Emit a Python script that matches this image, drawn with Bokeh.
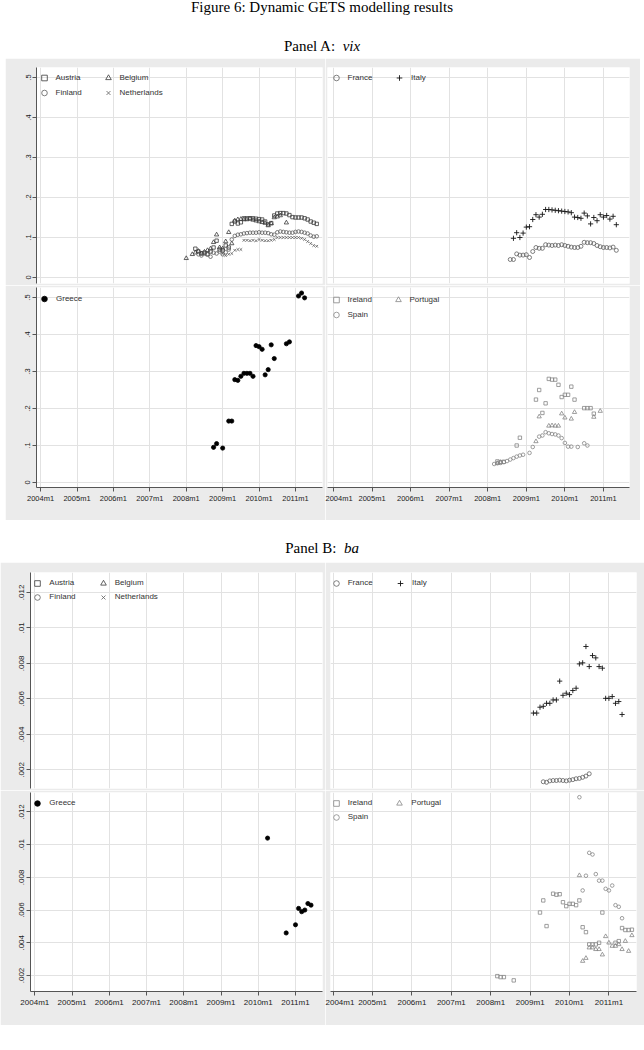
from bokeh.plotting import figure
from bokeh.models import (Range1d, FixedTicker, Legend, LegendItem, Div, Spacer,
                          LinearAxis, ColumnDataSource)
from bokeh.layouts import column, row
from bokeh.embed import file_html
from bokeh.resources import INLINE

# ---------------- data ----------------
N = None
x_tick_values = [0, 12, 24, 36, 48, 60, 72, 84]
x_tick_labels = ["2004m1", "2005m1", "2006m1", "2007m1", "2008m1", "2009m1", "2010m1", "2011m1"]
vix_y_ticks = [0, 0.1, 0.2, 0.3, 0.4, 0.5]
vix_y_labels = ["0", ".1", ".2", ".3", ".4", ".5"]
ba_y_ticks = [0.002, 0.004, 0.006, 0.008, 0.01, 0.012]
ba_y_labels = [".002", ".004", ".006", ".008", ".01", ".012"]

# Panel A: vix  (each series: first month, then monthly values; None = no estimate)
vix_austria_start = "2008m4"
vix_austria = [0.072, 0.065, 0.060, 0.062, 0.058, 0.065, 0.075, 0.092, 0.070, 0.068, 0.080, 0.075,
               0.134, 0.140, 0.135, 0.138, 0.148, 0.148, 0.148, 0.148, 0.147, 0.146, 0.145, 0.140,
               0.133, 0.136, 0.155, 0.160, 0.161, 0.161, 0.160, 0.156, 0.151, 0.150, 0.150, 0.150,
               0.148, 0.145, 0.140, 0.137, 0.134]
vix_belgium_start = "2008m1"
vix_belgium = [0.048, N, 0.058, 0.062, 0.066, 0.060, 0.064, 0.068, 0.072, 0.088, 0.107, 0.075,
               0.072, 0.090, 0.113, 0.085, 0.142, 0.145, 0.146, 0.145, 0.145, 0.147, 0.144, 0.142,
               0.140, 0.138, 0.136, 0.130, 0.135, 0.150, 0.152, 0.155, N, 0.137]
vix_finland_start = "2008m5"
vix_finland = [0.058, 0.055, 0.060, 0.058, 0.052, 0.062, 0.060, 0.065, 0.058, 0.063, 0.070, 0.095,
               0.104, 0.107, 0.108, 0.110, 0.111, 0.112, 0.112, 0.112, 0.113, 0.112, 0.112, 0.111,
               0.108, 0.107, 0.113, 0.115, 0.114, 0.113, 0.112, 0.112, 0.114, 0.115, 0.114, 0.112,
               0.110, 0.105, 0.102, 0.103]
vix_netherlands_start = "2009m1"
vix_netherlands = [0.060, 0.055, 0.058, 0.060, 0.068, 0.070, 0.070, 0.093, 0.093, 0.092, 0.093, 0.092,
                   0.095, 0.093, 0.092, 0.092, 0.093, 0.095, 0.100, 0.100, 0.100, 0.100, 0.100, 0.100,
                   0.100, 0.100, 0.098, 0.095, 0.090, 0.085, 0.080, 0.078]
vix_france_start = "2008m8"
vix_france = [0.045, 0.045, 0.059, 0.056, 0.056, 0.057, 0.050, 0.065, 0.075, 0.073, 0.073, 0.082,
              0.081, 0.080, 0.081, 0.080, 0.082, 0.080, 0.078, 0.076, 0.075, 0.075, 0.078, 0.088,
              0.087, 0.087, 0.085, 0.080, 0.077, 0.075, 0.075, 0.074, 0.076, 0.068]
vix_italy_start = "2008m9"
vix_italy = [0.098, 0.112, 0.100, 0.111, 0.126, 0.127, 0.145, 0.157, 0.151, 0.158, 0.170, 0.170,
             0.169, 0.168, 0.167, 0.166, 0.165, 0.164, 0.162, 0.151, 0.150, 0.148, 0.161, 0.154,
             0.134, 0.150, 0.142, 0.157, 0.151, 0.155, 0.146, 0.153, 0.132]
vix_greece_start = "2008m10"
vix_greece = [0.095, 0.105, N, 0.093, N, 0.166, 0.166, 0.278, 0.276, 0.287, 0.295, 0.295,
              0.295, 0.287, 0.370, 0.367, 0.360, 0.291, 0.305, 0.372, 0.335, N, N, N,
              0.375, 0.380, N, N, 0.504, 0.512, 0.499]
vix_ireland_start = "2008m4"
vix_ireland = [0.057, 0.055, 0.056, N, N, N, 0.100, 0.121, N, N, N, N,
               0.224, 0.250, 0.188, 0.214, 0.280, 0.278, 0.278, 0.264, 0.231, 0.237, 0.237, 0.259,
               0.224, N, N, 0.201, 0.201, 0.201, 0.186]
vix_portugal_start = "2008m4"
vix_portugal = [0.052, 0.055, N, N, N, N, N, N, N, N, N, N,
                0.111, 0.178, N, N, 0.153, 0.154, 0.153, 0.153, 0.186, 0.175, N, 0.172,
                0.190, N, N, N, N, N, 0.177, N, 0.193]
vix_spain_start = "2008m3"
vix_spain = [0.050, 0.052, 0.053, 0.055, 0.058, 0.062, 0.066, 0.070, 0.073, 0.075, N, 0.080,
             0.096, N, 0.124, 0.127, 0.136, 0.133, 0.131, 0.130, 0.127, 0.120, 0.107, 0.097,
             0.097, N, 0.096, N, 0.106, 0.100]

# Panel B: ba  (Austria, Belgium, Finland, Netherlands: no estimates retained)
ba_austria_start = "2004m1"
ba_austria = [N]
ba_belgium_start = "2004m1"
ba_belgium = [N]
ba_finland_start = "2004m1"
ba_finland = [N]
ba_netherlands_start = "2004m1"
ba_netherlands = [N]
ba_france_start = "2009m5"
ba_france = [0.00133, 0.00130, 0.00138, 0.00140, 0.00140, 0.00142, 0.00140, 0.00138, 0.00142,
             0.00145, 0.00150, 0.00152, 0.00158, 0.00165, 0.00178]
ba_italy_start = "2009m2"
ba_italy = [0.0052, 0.0052, 0.00553, 0.00558, 0.00575, 0.00575, 0.00594, 0.00594, 0.0070, 0.0062,
            0.00632, 0.00624, 0.00647, 0.0066, 0.00797, 0.00803, 0.00895, 0.00782, 0.00844, 0.00831,
            0.00782, 0.00773, 0.00603, 0.00603, 0.00613, 0.00575, 0.00585, 0.00512]
ba_greece_start = "2010m4"
ba_greece = [0.0104, N, N, N, N, N, 0.0046, N, N, 0.0051, 0.0061, 0.0059, 0.0060, 0.0064, 0.0063]
ba_ireland_start = "2008m3"
ba_ireland = [0.00196, 0.0019, 0.0019, N, N, 0.0017, N, N, N, N, N, N, N,
              0.00585, 0.00659, 0.00502, N, 0.0070, 0.00694, 0.00697, 0.00648, 0.00624, 0.00638,
              0.00638, 0.0063, 0.00659, 0.00495, 0.00465, 0.0039, 0.0039, 0.0039, 0.0040, 0.00585,
              N, N, N, 0.0040, 0.0041, 0.0049, 0.00478, 0.00478, 0.0048]
ba_portugal_start = "2010m4"
ba_portugal = [0.00812, 0.00288, 0.00306, 0.0037, 0.0037, 0.0036, 0.0036, 0.00327, 0.00439, 0.0040,
               0.0038, 0.0038, 0.0039, 0.0036, 0.0041, 0.00349, 0.00445]
ba_spain_start = "2010m4"
ba_spain = [0.0129, 0.0072, 0.0081, 0.0095, 0.0094, 0.0082, 0.0078, 0.0078, 0.0073, 0.0072,
            0.0075, 0.0063, 0.0062, 0.0055]

# ---------------- helpers ----------------
FONT = "Liberation Sans"
OUTER = "#ebebeb"
GRID = "#e2e2e2"
FRAME_H = {}


def month_index(period):
    y, m = period.split("m")
    return (int(y) - 2004) * 12 + int(m) - 1


def source(start, values):
    k0 = month_index(start)
    xs = [k0 + i for i, v in enumerate(values) if v is not None]
    ys = [v for v in values if v is not None]
    if not xs:  # series without any estimate: keep one empty (NaN) slot so the legend key is drawn
        xs, ys = [float("nan")], [float("nan")]
    return ColumnDataSource(dict(x=xs, y=ys))


def style_axis(ax, fs):
    ax.major_tick_out = 4
    ax.major_tick_in = 0
    ax.minor_tick_out = 0
    ax.minor_tick_in = 0
    ax.major_label_standoff = 2
    ax.axis_line_color = "#555555"
    ax.major_tick_line_color = "#555555"
    ax.major_label_text_font = FONT
    ax.major_label_text_font_size = fs
    ax.major_label_text_color = "#222222"


def panel_fig(w, h, borders, xr, yr, yticks, ylabels, show_x, show_y, fs):
    bl, br, bt, bb = borders
    p = figure(width=w, height=h, x_range=Range1d(*xr), y_range=Range1d(*yr),
               x_axis_location=None, y_axis_location=None,
               output_backend="svg", toolbar_location=None,
               min_border_left=bl, min_border_right=br,
               min_border_top=bt, min_border_bottom=bb,
               background_fill_color="white", border_fill_color=OUTER,
               outline_line_color=None, margin=0)
    xt = FixedTicker(ticks=x_tick_values, minor_ticks=[])
    yt = FixedTicker(ticks=yticks, minor_ticks=[])
    p.xgrid.ticker = xt
    p.ygrid.ticker = yt
    p.grid.grid_line_color = GRID
    p.grid.grid_line_width = 1
    if show_x:
        ax = LinearAxis(ticker=xt, major_label_overrides=dict(zip(x_tick_values, x_tick_labels)))
        style_axis(ax, fs)
        p.add_layout(ax, "below")
    if show_y:
        ay = LinearAxis(ticker=yt, major_label_overrides=dict(zip(yticks, ylabels)),
                        major_label_orientation="vertical")
        style_axis(ay, fs)
        p.add_layout(ay, "left")
    FRAME_H[p.id] = h - bt - bb
    return p


def pts(p, start, values, marker, color, size, filled=False, width=0.8):
    src = source(start, values)
    return p.scatter("x", "y", source=src, marker=marker, size=size,
                     fill_color=color if filled else None, line_color=color,
                     line_width=width)


def legends(p, cols, offsets, top, pitch):
    for items, xo in zip(cols, offsets):
        leg_h = len(items) * pitch
        loc = (xo - 7, FRAME_H[p.id] - (top - pitch / 2.0) - leg_h)
        leg = Legend(items=[LegendItem(label=lab, renderers=[r]) for lab, r in items],
                     location=loc, orientation="vertical",
                     glyph_width=14, glyph_height=pitch, label_height=8, label_width=0,
                     spacing=0, padding=0, margin=0, label_standoff=5,
                     label_text_font=FONT, label_text_font_size="8px",
                     label_text_color="#333333",
                     background_fill_alpha=0, border_line_alpha=0)
        p.add_layout(leg)


DARK = "#3a3a3a"
MID = "#5e5e5e"
LIGHT = "#858585"
SQ, CI, TR, XX, PL, DOT = 3.4, 3.6, 4.3, 3.8, 5.2, 4.2

# ---------------- Panel A ----------------
A_xr_left = (-1.35, 92.9)
A_xr_right = (-1.85, 92.1)
A_yr_top = (-0.015, 0.525)
A_yr_bot = (-0.0135, 0.527)

a_tl = panel_fig(320, 227, (31, 3, 9, 2), A_xr_left, A_yr_top, vix_y_ticks, vix_y_labels, False, True, "7.5px")
r_aus = pts(a_tl, vix_austria_start, vix_austria, "square", DARK, SQ)
r_bel = pts(a_tl, vix_belgium_start, vix_belgium, "triangle", DARK, TR)
r_fin = pts(a_tl, vix_finland_start, vix_finland, "circle", MID, CI)
r_net = pts(a_tl, vix_netherlands_start, vix_netherlands, "x", MID, XX)
legends(a_tl, [[("Austria", r_aus), ("Finland", r_fin)], [("Belgium", r_bel), ("Netherlands", r_net)]],
        [7.5, 71.5], 10.5, 15)

a_tr = panel_fig(315, 227, (2, 11, 9, 2), A_xr_right, A_yr_top, vix_y_ticks, vix_y_labels, False, False, "7.5px")
r_fra = pts(a_tr, vix_france_start, vix_france, "circle", MID, CI + 0.4)
r_ita = pts(a_tr, vix_italy_start, vix_italy, "cross", "#151515", PL, width=0.9)
legends(a_tr, [[("France", r_fra)], [("Italy", r_ita)]], [8.5, 72], 10.5, 15)

a_bl = panel_fig(320, 235, (31, 3, 2, 33), A_xr_left, A_yr_bot, vix_y_ticks, vix_y_labels, True, True, "7.5px")
r_gre = pts(a_bl, vix_greece_start, vix_greece, "circle", "#000000", DOT, filled=True)
legends(a_bl, [[("Greece", r_gre)]], [8], 11.3, 15)

a_br = panel_fig(315, 235, (2, 11, 2, 33), A_xr_right, A_yr_bot, vix_y_ticks, vix_y_labels, True, False, "7.5px")
r_ire = pts(a_br, vix_ireland_start, vix_ireland, "square", LIGHT, SQ)
r_por = pts(a_br, vix_portugal_start, vix_portugal, "triangle", LIGHT, TR)
r_spa = pts(a_br, vix_spain_start, vix_spain, "circle", LIGHT, CI)
legends(a_br, [[("Ireland", r_ire), ("Spain", r_spa)], [("Portugal", r_por)]], [8.5, 70.5], 12, 15)

# ---------------- Panel B ----------------
B_xr_left = (-1.39, 92.7)
B_xr_right = (-0.82, 92.4)
B_yr_top = (0.00095, 0.01312)
B_yr_bot = (0.00102, 0.01319)

b_tl = panel_fig(325, 228, (30, 3, 10, 2), B_xr_left, B_yr_top, ba_y_ticks, ba_y_labels, False, True, "8px")
q_aus = pts(b_tl, ba_austria_start, ba_austria, "square", DARK, SQ)
q_bel = pts(b_tl, ba_belgium_start, ba_belgium, "triangle", DARK, TR)
q_fin = pts(b_tl, ba_finland_start, ba_finland, "circle", MID, CI)
q_net = pts(b_tl, ba_netherlands_start, ba_netherlands, "x", MID, XX)
legends(b_tl, [[("Austria", q_aus), ("Finland", q_fin)], [("Belgium", q_bel), ("Netherlands", q_net)]],
        [7.3, 72.7], 10.6, 14)

b_tr = panel_fig(319, 228, (5, 8, 10, 2), B_xr_right, B_yr_top, ba_y_ticks, ba_y_labels, False, False, "8px")
q_fra = pts(b_tr, ba_france_start, ba_france, "circle", MID, CI + 0.4)
q_ita = pts(b_tr, ba_italy_start, ba_italy, "cross", "#151515", PL, width=0.9)
legends(b_tr, [[("France", q_fra)], [("Italy", q_ita)]], [5.7, 70], 10.6, 14)

b_bl = panel_fig(325, 235, (30, 3, 2, 34), B_xr_left, B_yr_bot, ba_y_ticks, ba_y_labels, True, True, "8px")
q_gre = pts(b_bl, ba_greece_start, ba_greece, "circle", "#000000", DOT, filled=True)
legends(b_bl, [[("Greece", q_gre)]], [7.3], 10.6, 14)

b_br = panel_fig(319, 235, (5, 8, 2, 34), B_xr_right, B_yr_bot, ba_y_ticks, ba_y_labels, True, False, "8px")
q_ire = pts(b_br, ba_ireland_start, ba_ireland, "square", LIGHT, SQ)
q_por = pts(b_br, ba_portugal_start, ba_portugal, "triangle", LIGHT, TR)
q_spa = pts(b_br, ba_spain_start, ba_spain, "circle", LIGHT, CI)
legends(b_br, [[("Ireland", q_ire), ("Spain", q_spa)], [("Portugal", q_por)]], [5.7, 69.3], 10.9, 14)


# ---------------- headers & layout ----------------
def header(html, h, offset):
    inner = ('<div style="width:644px;text-align:center;font-family:\'Liberation Serif\';'
             'font-size:15px;line-height:15px;color:#000;position:relative;top:%spx;">%s</div>'
             % (offset, html))
    return Div(text=inner, width=644, height=h, margin=0, styles={"overflow": "visible"})


title_div = header("Figure 6: Dynamic GETS modelling results", 30, 0)
panel_a_div = header("Panel A:&nbsp; <i>vix</i>", 28, 8.5)
panel_b_div = header("Panel B:&nbsp; <i>ba</i>", 42, 20.5)


def grid_row(f1, f2, h, left=5, right=4):
    kids = []
    if left:
        kids.append(Spacer(width=left, height=h, margin=0))
    kids += [f1, f2]
    if right:
        kids.append(Spacer(width=right, height=h, margin=0))
    return row(*kids, margin=0, spacing=0)


layout = column(
    title_div,
    panel_a_div,
    grid_row(a_tl, a_tr, 227),
    grid_row(a_bl, a_br, 235),
    panel_b_div,
    grid_row(b_tl, b_tr, 228, 0, 0),
    grid_row(b_bl, b_br, 235, 0, 0),
    margin=0, spacing=0,
)

open("out.html", "w").write(file_html(layout, INLINE))
